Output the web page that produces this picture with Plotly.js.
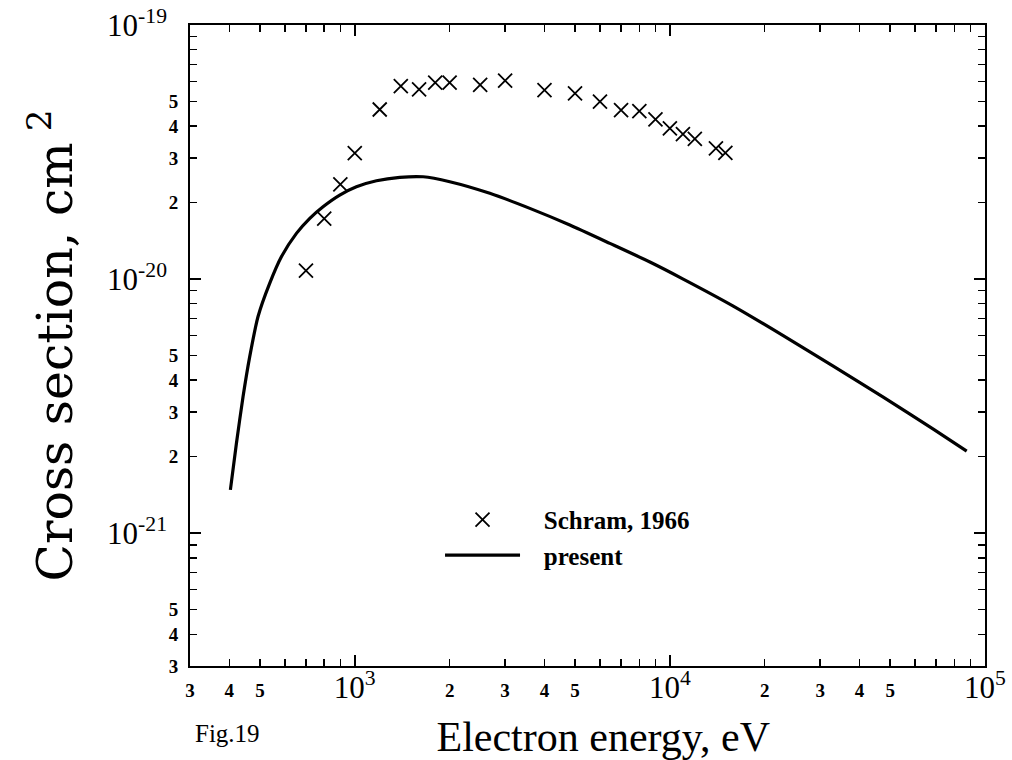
<!DOCTYPE html>
<html>
<head>
<meta charset="utf-8">
<script src="https://cdn.plot.ly/plotly-3.0.1.min.js"></script>
<style>html,body{margin:0;padding:0;background:#fff;}#chart{width:1012px;height:760px;}</style>
</head>
<body>
<div id="chart"></div>
<script>
// Schram, 1966 (crosses)
var schramEnergy = [700, 800, 900, 1000, 1200, 1400, 1600, 1800, 2000, 2500, 3000, 4000, 5000, 6000, 7000, 8000, 9000, 10000, 11000, 12000, 14000, 15000];
var schramSigma = [1.08e-20, 1.73e-20, 2.36e-20, 3.13e-20, 4.65e-20, 5.75e-20, 5.58e-20, 5.93e-20, 5.93e-20, 5.81e-20, 6.04e-20, 5.54e-20, 5.38e-20, 4.99e-20, 4.62e-20, 4.58e-20, 4.25e-20, 3.92e-20, 3.72e-20, 3.56e-20, 3.27e-20, 3.14e-20];

// present (solid curve)
var presentEnergy = [403, 421, 442, 464, 493, 537, 585, 653, 720, 793, 896, 1012, 1172, 1390, 1648, 2002, 2683, 3594, 4814, 6449, 8642, 11020, 15890, 22890, 32990, 47540, 68540, 87480];
var presentSigma = [1.48e-21, 2.25e-21, 3.44e-21, 4.94e-21, 7.11e-21, 9.62e-21, 1.224e-20, 1.513e-20, 1.734e-20, 1.926e-20, 2.141e-20, 2.309e-20, 2.438e-20, 2.514e-20, 2.527e-20, 2.416e-20, 2.175e-20, 1.898e-20, 1.632e-20, 1.382e-20, 1.167e-20, 1.0e-20, 7.83e-21, 5.99e-21, 4.54e-21, 3.43e-21, 2.567e-21, 2.103e-21];

// axis ticks: minor (digit) labels
var xMinorVals = [300,400,500,600,700,800,900,2000,3000,4000,5000,6000,7000,8000,9000,20000,30000,40000,50000,60000,70000,80000,90000];
var xMinorText = ['3','4','5','','','','','2','3','4','5','','','','','2','3','4','5','','','',''];
var yMinorVals = [3e-22,4e-22,5e-22,6e-22,7e-22,8e-22,9e-22,2e-21,3e-21,4e-21,5e-21,6e-21,7e-21,8e-21,9e-21,2e-20,3e-20,4e-20,5e-20,6e-20,7e-20,8e-20,9e-20];
var yMinorText = ['3','4','5','','','','','2','3','4','5','','','','','2','3','4','5','','','',''];
// axis ticks: decade labels
var xMajorVals = [1000, 10000, 100000];
var xMajorText = ['10<sup>3</sup>', '10<sup>4</sup>', '10<sup>5</sup>'];
var yMajorVals = [1e-21, 1e-20, 1e-19];
var yMajorText = ['10<sup>-21</sup>', '10<sup>-20</sup>', '10<sup>-19</sup>'];

var serif = 'Liberation Serif, Times New Roman, serif';
var wideSerif = 'DejaVu Serif, serif';
var xRange = [Math.log10(300), 5];
var yRange = [Math.log10(3e-22), -19];

var traces = [
  {
    x: schramEnergy, y: schramSigma, name: '\u00a0\u00a0\u00a0Schram, 1966', mode: 'markers', type: 'scatter',
    marker: {symbol: 'x-thin-open', size: 14, color: '#000', line: {color: '#000', width: 1.8}}
  },
  {
    x: presentEnergy, y: presentSigma, name: '\u00a0\u00a0\u00a0present', mode: 'lines', type: 'scatter',
    line: {color: '#000', width: 3.2, shape: 'spline', smoothing: 0.6}
  },
  {
    x: [], y: [], xaxis: 'x2', yaxis: 'y2', type: 'scatter', mode: 'markers', showlegend: false, hoverinfo: 'skip'
  }
];

var axisCommon = {
  type: 'log', showgrid: false, zeroline: false,
  showline: true, linecolor: '#000', linewidth: 2, mirror: 'ticks',
  ticks: 'inside', ticklen: 7, tickwidth: 1.5, tickcolor: '#000',
  tickmode: 'array',
  tickfont: {family: serif, size: 19, color: '#000', weight: 'bold'}
};
var majorCommon = {
  type: 'log', showgrid: false, zeroline: false, showline: false, mirror: 'ticks',
  ticks: 'inside', ticklen: 11, tickwidth: 1.5, tickcolor: '#000',
  tickmode: 'array',
  tickfont: {family: serif, size: 31, color: '#000'}
};

var layout = {
  width: 1012, height: 760,
  paper_bgcolor: '#fff', plot_bgcolor: '#fff',
  margin: {l: 190, r: 27, t: 25, b: 94},
  showlegend: true,
  legend: {
    x: 0.3145, y: 0.264, xanchor: 'left', yanchor: 'top',
    bgcolor: 'rgba(0,0,0,0)', itemwidth: 75, tracegroupgap: 0,
    font: {family: serif, size: 25, color: '#000', weight: 'bold'}
  },
  xaxis: Object.assign({}, axisCommon, {
    range: xRange, tickvals: xMinorVals, ticktext: xMinorText,
    ticklabelstandoff: 6,
    title: {text: '\u200b\u00a0\u00a0\u00a0Electron energy, eV', font: {family: serif, size: 42, color: '#000'}, standoff: 22}
  }),
  yaxis: Object.assign({}, axisCommon, {
    range: yRange, tickvals: yMinorVals, ticktext: yMinorText,
    ticklabelstandoff: 6,
    title: {text: 'Cross section, cm<sup> 2</sup>', font: {family: wideSerif, size: 49, color: '#000'}, standoff: 81}
  }),
  xaxis2: Object.assign({}, majorCommon, {
    range: xRange, tickvals: xMajorVals, ticktext: xMajorText,
    overlaying: 'x', anchor: 'y2', side: 'bottom', ticklabelstandoff: 0
  }),
  yaxis2: Object.assign({}, majorCommon, {
    range: yRange, tickvals: yMajorVals, ticktext: yMajorText,
    overlaying: 'y', anchor: 'x2', side: 'left', ticklabelstandoff: 22
  }),
  annotations: [
    {text: 'Fig.19', xref: 'paper', yref: 'paper', x: 0.004, y: -0.105, xanchor: 'left', yanchor: 'middle',
     showarrow: false, font: {family: serif, size: 25, color: '#000'}}
  ]
};

Plotly.newPlot('chart', traces, layout, {displayModeBar: false, staticPlot: true});
</script>
</body>
</html>
